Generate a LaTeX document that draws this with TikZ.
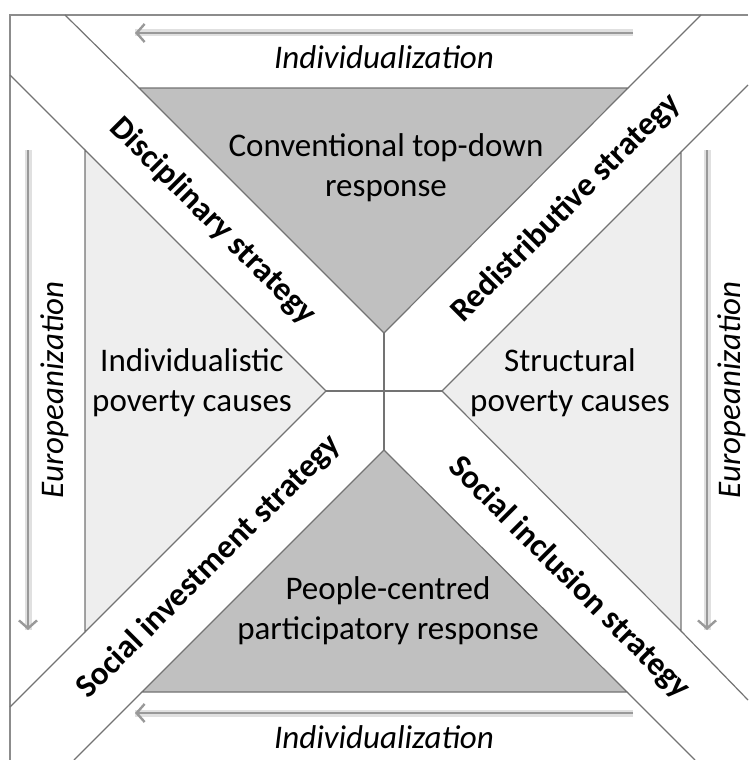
\documentclass[tikz,border=0pt]{standalone}
\usepackage{fontspec}
\setmainfont{Carlito}
\usetikzlibrary{arrows.meta}
\definecolor{darkfill}{RGB}{192,192,192}
\definecolor{lightfill}{RGB}{238,238,238}

\begin{document}
\begin{tikzpicture}[x=1pt,y=-1pt]
    \tikzset{frame/.style = {draw=black!45,line width=1.8pt}}
    \tikzset{edge/.style = {draw=black!55,line width=1.2pt}}
    \tikzset{dark/.style = {edge,fill=darkfill}}
    \tikzset{light/.style = {edge,fill=lightfill}}
    \tikzset{shade/.style = {draw=black!12,line width=7pt}}
    \tikzset{flow/.style = {-{Straight Barb[length=8pt,width=18pt]},draw=black!40,line width=2.4pt}}
    \tikzset{field/.style = {align=center,font=\fontsize{33}{40}\selectfont}}
    \tikzset{strategy/.style = {font=\bfseries\fontsize{33}{38}\selectfont}}
    \tikzset{trend/.style = {font=\itshape\fontsize{33}{40}\selectfont}}
    \useasboundingbox (0,0) rectangle (748,760);
    % corners
    \coordinate (tl) at (139,88);
    \coordinate (tr) at (628,88);
    \coordinate (ta) at (384,333);
    \coordinate (lt) at (85,150);
    \coordinate (lb) at (85,632);
    \coordinate (la) at (326,391);
    \coordinate (rt) at (681,152);
    \coordinate (rb) at (681,631);
    \coordinate (ra) at (442,391);
    \coordinate (bl) at (142,692);
    \coordinate (br) at (627,692);
    \coordinate (ba) at (384,450);
    % fields
    \draw[dark] (tl) -- (tr) -- (ta) -- cycle;
    \draw[light] (lt) -- (la) -- (lb) -- cycle;
    \draw[light] (rt) -- (rb) -- (ra) -- cycle;
    \draw[dark] (bl) -- (ba) -- (br) -- cycle;
    % frame
    \coordinate (f1) at (748,15);
    \coordinate (f2) at (10,15);
    \coordinate (f3) at (10,760);
    \draw[frame] (f1) -- (f2) -- (f3);
    % band edges
    \coordinate (d1) at (65,15);
    \coordinate (d2) at (10,75);
    \coordinate (r1) at (701,15);
    \coordinate (r2) at (748,85);
    \coordinate (s1) at (10,707);
    \coordinate (s2) at (74,760);
    \coordinate (i1) at (748,700);
    \coordinate (i2) at (695,760);
    \draw[edge] (d1) -- (tl);
    \draw[edge] (d2) -- (lt);
    \draw[edge] (r1) -- (tr);
    \draw[edge] (r2) -- (rt);
    \draw[edge] (s1) -- (lb);
    \draw[edge] (s2) -- (bl);
    \draw[edge] (i1) -- (rb);
    \draw[edge] (i2) -- (br);
    \draw[edge] (ta) -- (ba);
    \draw[edge] (la) -- (ra);
    % arrows
    \coordinate (a1) at (633,33);
    \coordinate (a2) at (135,33);
    \coordinate (b1) at (633,713);
    \coordinate (b2) at (135,713);
    \coordinate (c1) at (28,150);
    \coordinate (c2) at (28,630);
    \coordinate (e1) at (707,150);
    \coordinate (e2) at (707,630);
    \foreach \p/\q in {a1/a2,b1/b2,c1/c2,e1/e2}{
        \draw[shade] (\p) -- (\q);
        \draw[flow] (\p) -- (\q);
    }
    % texts
    \node[field] (conv) at (386,168) {Conventional top-down\\response};
    \node[field] (indiv) at (192,383) {Individualistic\\poverty causes};
    \node[field] (struc) at (570,383) {Structural\\poverty causes};
    \node[field] (people) at (388,611) {People-centred\\participatory response};
    \node[strategy,rotate=-45] (disc) at (213,221) {Disciplinary strategy};
    \node[strategy,rotate=45] (redis) at (566,208) {Redistributive strategy};
    \node[strategy,rotate=45] (invest) at (209,567) {Social investment strategy};
    \node[strategy,rotate=-45] (incl) at (569,578) {Social inclusion strategy};
    \node[trend,anchor=base] (indtop) at (384,68) {Individualization};
    \node[trend,anchor=base] (indbot) at (384,748) {Individualization};
    \node[trend,rotate=90] (eurl) at (55,390) {Europeanization};
    \node[trend,rotate=90] (eurr) at (732,390) {Europeanization};
\end{tikzpicture}
\end{document}
